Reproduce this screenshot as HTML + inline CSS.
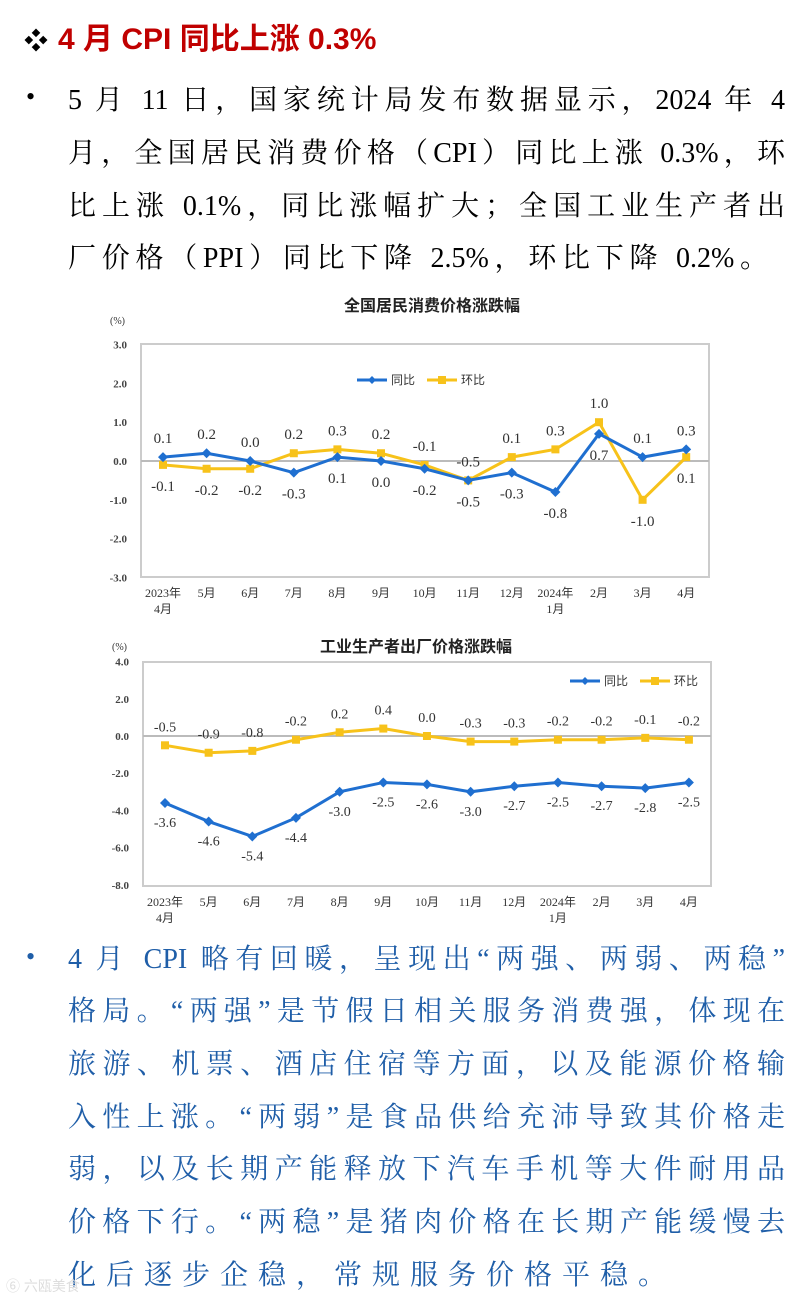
<!DOCTYPE html>
<html><head><meta charset="utf-8">
<style>
html,body{margin:0;padding:0;background:#fff;}
body{width:799px;height:1303px;position:relative;overflow:hidden;font-family:"Liberation Serif","Noto Serif CJK SC",serif;}
.h{position:absolute;left:24px;top:14px;font-family:"Liberation Sans","Noto Sans CJK SC",sans-serif;font-weight:bold;font-size:30px;color:#c00000;white-space:nowrap;}
.h .d{color:#000;font-size:24px;margin-right:10px;}
.bul{position:absolute;left:26px;font-size:26px;}
.ln{position:absolute;left:68px;width:717px;font-size:28px;line-height:34px;text-align:justify;text-align-last:justify;white-space:nowrap;}
.blue{color:#1f5ea8;}
svg text{font-family:"Liberation Serif","Noto Sans CJK SC",sans-serif;}
</style></head><body>
<div class="h"><span class="d">❖</span>4 月 CPI 同比上涨 0.3%</div>
<div class="bul" style="top:82px">•</div>
<div>
<div class="ln" style="top:84px">5 月 11 日，国家统计局发布数据显示，2024 年 4</div>
<div class="ln" style="top:137px">月，全国居民消费价格（CPI）同比上涨 0.3%，环</div>
<div class="ln" style="top:190px">比上涨 0.1%，同比涨幅扩大；全国工业生产者出</div>
<div class="ln" style="top:242px;width:700px">厂价格（PPI）同比下降 2.5%，环比下降 0.2%。</div>
</div>
<svg id="c1" width="799" height="340" style="position:absolute;left:0;top:290px"></svg>
<svg id="c2" width="799" height="300" style="position:absolute;left:0;top:632px"></svg>
<div class="bul blue" style="top:942px">•</div>
<div class="blue">
<div class="ln" style="top:943px">4 月 CPI 略有回暖，呈现出“两强、两弱、两稳”</div>
<div class="ln" style="top:995px">格局。“两强”是节假日相关服务消费强，体现在</div>
<div class="ln" style="top:1048px">旅游、机票、酒店住宿等方面，以及能源价格输</div>
<div class="ln" style="top:1101px">入性上涨。“两弱”是食品供给充沛导致其价格走</div>
<div class="ln" style="top:1153px">弱，以及长期产能释放下汽车手机等大件耐用品</div>
<div class="ln" style="top:1206px">价格下行。“两稳”是猪肉价格在长期产能缓慢去</div>
<div class="ln" style="top:1259px;width:598px">化后逐步企稳，常规服务价格平稳。</div>
</div>
<div style="position:absolute;left:6px;top:1276px;font-size:14px;color:#ddd;font-family:'Liberation Sans','Noto Sans CJK SC',sans-serif">⑥ 六瓯美食</div>
<script>
const months=["2023年|4月","5月","6月","7月","8月","9月","10月","11月","12月","2024年|1月","2月","3月","4月"];
const cpiYoY=[0.1,0.2,0.0,-0.3,0.1,0.0,-0.2,-0.5,-0.3,-0.8,0.7,0.1,0.3];
const cpiMoM=[-0.1,-0.2,-0.2,0.2,0.3,0.2,-0.1,-0.5,0.1,0.3,1.0,-1.0,0.1];
const cpiTicks=[3,2,1,0,-1,-2,-3];
const ppiYoY=[-3.6,-4.6,-5.4,-4.4,-3.0,-2.5,-2.6,-3.0,-2.7,-2.5,-2.7,-2.8,-2.5];
const ppiMoM=[-0.5,-0.9,-0.8,-0.2,0.2,0.4,0.0,-0.3,-0.3,-0.2,-0.2,-0.1,-0.2];
const ppiTicks=[4,2,0,-2,-4,-6,-8];
const NS="http://www.w3.org/2000/svg";
function mk(p,t,a,txt){const e=document.createElementNS(NS,t);for(const k in a)e.setAttribute(k,a[k]);if(txt!=null)e.textContent=txt;p.appendChild(e);return e;}
function chart(svg,o){
  const y=v=>o.y0-(v)*o.k, x=i=>o.x0+i*o.step;
  let t=mk(svg,'text',{x:o.tx,y:o.ty,'text-anchor':'middle','font-size':16,'font-weight':'bold',fill:'#222'},o.title);
  
  mk(svg,'text',{x:o.px,y:o.py,'font-size':10,fill:'#333'},'(%)');
  let r=mk(svg,'rect',{x:o.bx,y:o.by,width:o.bw,height:o.bh,fill:'none',stroke:'#ccc','stroke-width':2});
  
  mk(svg,'line',{x1:o.bx,x2:o.bx+o.bw,y1:y(0),y2:y(0),stroke:'#bbb','stroke-width':2});
  o.ticks.forEach(v=>{let e=mk(svg,'text',{x:o.bx-14,y:y(v)+4,'text-anchor':'end','font-size':11,'font-weight':'bold',fill:'#444'},v.toFixed(1));
    });
  months.forEach((m,i)=>{const p=m.split('|');p.forEach((s,j)=>{let e=mk(svg,'text',{x:x(i),y:o.by+o.bh+20+j*16,'text-anchor':'middle','font-size':12,fill:'#333'},s);
    });});
  [[o.mom,'#f7c21a','square',o.momLab],[o.yoy,'#1f6fd0','diamond',o.yoyLab]].forEach(([d,c,sh,lab])=>{
    let pl=mk(svg,'polyline',{points:d.map((v,i)=>x(i)+','+y(v)).join(' '),fill:'none',stroke:c,'stroke-width':3});
    
    d.forEach((v,i)=>{let m=sh=='square'?mk(svg,'rect',{x:x(i)-4,y:y(v)-4,width:8,height:8,fill:c}):mk(svg,'path',{d:`M${x(i)},${y(v)-5}l5,5l-5,5l-5,-5z`,fill:c});
      
      const off=lab(i,v);let e=mk(svg,'text',{x:x(i),y:y(v)+off,'text-anchor':'middle','font-size':o.lfs,fill:'#333','font-family':o.lff},v.toFixed(1).replace('-0.0','0.0').replace('-',o.minus));
      });
  });
  const lg=o.legend;
  mk(svg,'line',{x1:lg.x,x2:lg.x+30,y1:lg.y,y2:lg.y,stroke:'#1f6fd0','stroke-width':3});
  mk(svg,'path',{d:`M${lg.x+15},${lg.y-4}l4,4l-4,4l-4,-4z`,fill:'#1f6fd0'});
  let l1=mk(svg,'text',{x:lg.x+34,y:lg.y+4,'font-size':12,fill:'#333'},'同比');
  mk(svg,'line',{x1:lg.x+70,x2:lg.x+100,y1:lg.y,y2:lg.y,stroke:'#f7c21a','stroke-width':3});
  mk(svg,'rect',{x:lg.x+81,y:lg.y-4,width:8,height:8,fill:'#f7c21a'});
  let l2=mk(svg,'text',{x:lg.x+104,y:lg.y+4,'font-size':12,fill:'#333'},'环比');
}
chart(document.getElementById('c1'),{title:'全国居民消费价格涨跌幅',tx:432,ty:21,px:110,py:34,bx:141,by:54,bw:568,bh:233,
  y0:171,k:38.8,x0:163,step:43.6,ticks:cpiTicks,yoy:cpiYoY,mom:cpiMoM,lfs:15,lff:'"Liberation Sans",sans-serif',minus:'-',
  yoyLab:(i,v)=>{const above=[1,1,1,0,0,0,0,0,0,0,0,1,1][i];return above?(v>=cpiMoM[i]?-14:-14-(cpiMoM[i]-v)*38.8):26;},
  momLab:(i,v)=>{const above=[0,0,0,1,1,1,1,1,1,1,1,0,0][i];return above?(v>=cpiYoY[i]?-14:-14-(cpiYoY[i]-v)*38.8):26;},
  legend:{x:357,y:90}});
chart(document.getElementById('c2'),{title:'工业生产者出厂价格涨跌幅',tx:416,ty:20,px:112,py:18,bx:143,by:30,bw:568,bh:224,
  y0:104,k:18.6,x0:165,step:43.66,ticks:ppiTicks,yoy:ppiYoY,mom:ppiMoM,lfs:14,lff:'"Liberation Serif",serif',minus:'-',
  yoyLab:(i,v)=>24,momLab:(i,v)=>-14,legend:{x:570,y:49}});
</script>
</body></html>
